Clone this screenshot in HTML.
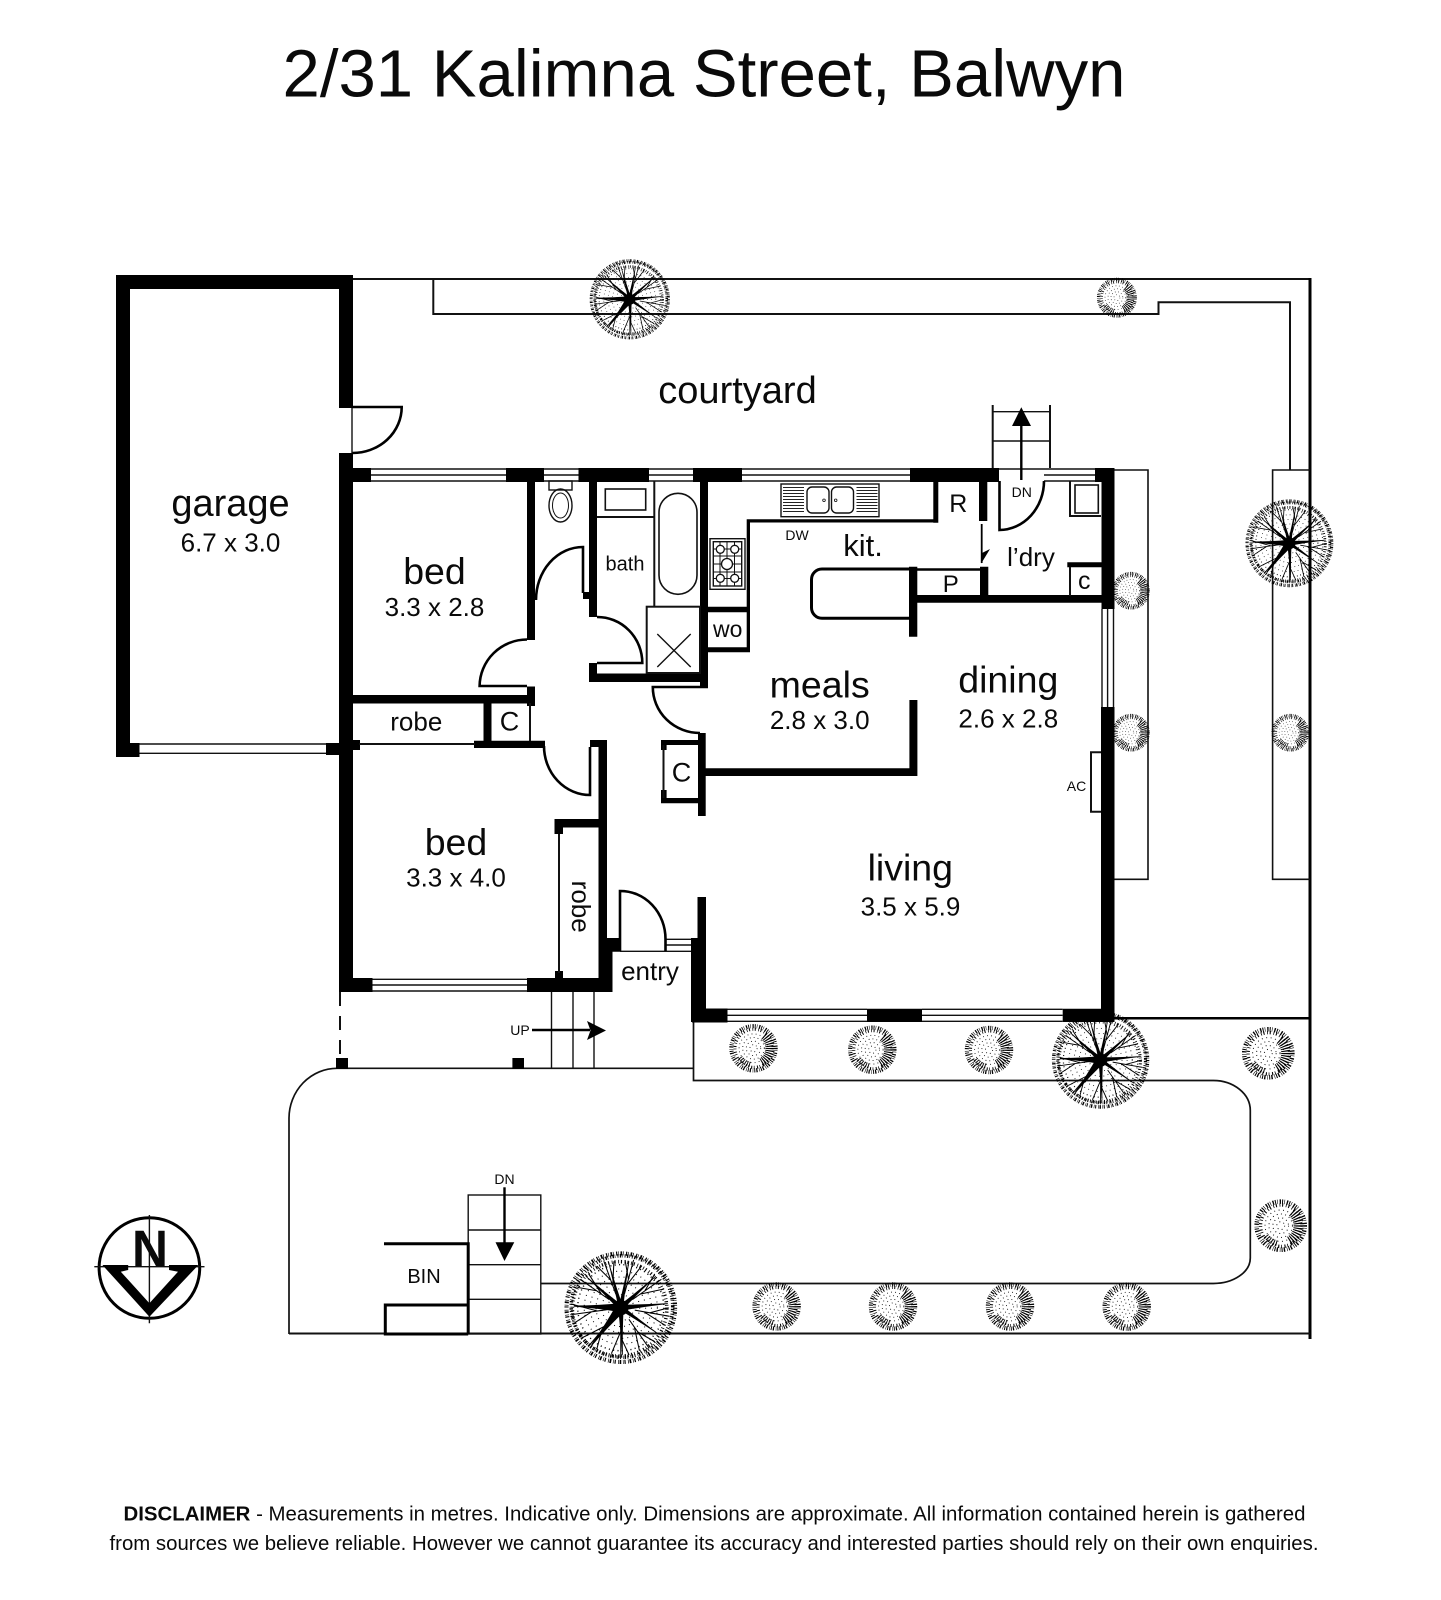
<!DOCTYPE html>
<html><head><meta charset="utf-8"><title>2/31 Kalimna Street, Balwyn</title>
<style>html,body{margin:0;padding:0;background:#fff}svg{display:block}
text{font-family:"Liberation Sans",Arial,sans-serif;fill:#0a0a0a;text-anchor:middle}
.l{font-size:37.5px}.d{font-size:26px}.s{font-size:14px}
.thin{fill:none;stroke:#111;stroke-width:1.4}.f{fill:none;stroke:#111;stroke-width:2}.m{fill:none;stroke:#000;stroke-width:3}</style></head>
<body>
<svg xmlns="http://www.w3.org/2000/svg" width="1441" height="1600" viewBox="0 0 1441 1600">
<defs>
<g id="shrub" fill="none" stroke="#000">
<circle r="21.5" stroke-width="4" stroke-dasharray=".9 1.1 .5 1.7 1.2 1"/>
<circle cx=".5" r="18.5" stroke-width="3" stroke-dasharray=".7 1.6 1 2.4"/>
<path d="M10 -11.9A15.5 15.5 0 0 1 7.75 13.4" stroke-width="8" stroke-dasharray="1.1 1.1"/>
<path d="M-13 9A16 16 0 0 0 -3 15.7" stroke-width="5" stroke-dasharray=".9 1.3"/>
<circle r="14" stroke-width=".9" stroke-dasharray=".8 3.2"/>
<circle r="10.500" stroke-width=".9" stroke-dasharray=".8 3"/>
<circle r="7" stroke-width=".9" stroke-dasharray=".8 3"/>
<circle r="3.500" stroke-width=".9" stroke-dasharray=".8 3"/>
</g>
<path id="br" d="M-3 0L3 0Q1 -18 .4 -40L-.4 -40Q-1 -18 -3 0Z"/>
<path id="tw" d="M0 -12L0 -42M0 -20L8 -39M0 -25L-7 -40" fill="none" stroke="#000" stroke-width=".9"/>
<g id="big">
<g fill="none" stroke="#000">
<circle r="46" stroke-width="3.500" stroke-dasharray="1 .8 .5 1.500 1.400 .7 .6 2"/>
<circle cx="1" cy="-1" r="43" stroke-width="3" stroke-dasharray=".8 1.200 1.200 .7 .5 1.800"/>
<circle cx="-1" cy="1" r="40" stroke-width="3" stroke-dasharray=".7 1.600 1 2.200"/>
<circle r="36.500" stroke-width="1.200" stroke-dasharray=".9 2.800"/>
<circle r="31" stroke-width=".9" stroke-dasharray=".8 3.500"/>
<circle r="26" stroke-width=".9" stroke-dasharray=".8 3.500"/>
<circle r="21" stroke-width=".9" stroke-dasharray=".8 3.500"/>
<circle r="16" stroke-width=".9" stroke-dasharray=".8 3.500"/>
<circle r="11" stroke-width=".9" stroke-dasharray=".8 3.500"/>
</g>
<use href="#tw" transform="rotate(15)"/><use href="#tw" transform="rotate(55)"/><use href="#tw" transform="rotate(100)"/><use href="#tw" transform="rotate(145)"/><use href="#tw" transform="rotate(180)"/><use href="#tw" transform="rotate(220)"/><use href="#tw" transform="rotate(262)"/><use href="#tw" transform="rotate(305)"/><use href="#tw" transform="rotate(340)"/>
<use href="#br" transform="rotate(10) scale(.7,1)"/><use href="#br" transform="rotate(48) scale(.8,1)"/><use href="#br" transform="rotate(85) scale(.9,1)"/><use href="#br" transform="rotate(125) scale(.7,1)"/><use href="#br" transform="rotate(178) scale(.8,1)"/><use href="#br" transform="rotate(218) scale(1.500,1)"/><use href="#br" transform="rotate(272) scale(1.300,1)"/><use href="#br" transform="rotate(312) scale(.8,1)"/><use href="#br" transform="rotate(345) scale(.7,1)"/>
<circle r="6.500" fill="#000"/>
</g>
</defs>
<rect width="1441" height="1600" fill="#fff"/>

<text x="704" y="96.700" font-size="67" textLength="843" lengthAdjust="spacingAndGlyphs">2/31 Kalimna Street, Balwyn</text>

<!-- boundaries -->
<path class="f" d="M353 279H1310M433.300 279V314H1158.500V302.300H1290V470"/>
<path class="m" d="M1310 278V1339"/>
<path class="m" d="M1114 1018.300H1310" style="stroke-width:2.500"/>
<path class="f" d="M289 1333.500H1310"/>
<path class="thin" d="M1114 470H1148V879.300H1114M1310 470H1272.600V879.300H1310" style="stroke-width:1.600"/>
<path class="f" d="M693.500 1022V1080.500H1213A37 30 0 0 1 1250.300 1110.500V1258A37 25.500 0 0 1 1213 1283.500H541M289 1334V1118A48 50 0 0 1 337 1068.300H693.500" style="stroke-width:1.700"/>
<path d="M340 992V1058" fill="none" stroke="#111" stroke-width="2" stroke-dasharray="14 10"/>

<!-- trees -->
<use href="#big" transform="translate(629.800,299.300) scale(.84)"/>
<use href="#big" transform="translate(1289.400,543.300) scale(.92)"/>
<use href="#big" transform="translate(1100.600,1060) scale(1.020)"/>
<use href="#big" transform="translate(620.800,1307.700) scale(1.180)"/>
<use href="#shrub" transform="translate(1116.900,297.700) scale(.85)"/>
<use href="#shrub" transform="translate(1131,590.700) scale(.8)"/>
<use href="#shrub" transform="translate(1131,732.700) scale(.8)"/>
<use href="#shrub" transform="translate(1290.300,732.700) scale(.8)"/>
<use href="#shrub" transform="translate(753.500,1048.300) scale(1.030)"/>
<use href="#shrub" transform="translate(872.300,1049.700) scale(1.030)"/>
<use href="#shrub" transform="translate(989,1050) scale(1.030)"/>
<use href="#shrub" transform="translate(1268.300,1053.300) scale(1.120)"/>
<use href="#shrub" transform="translate(1280.700,1225.700) scale(1.120)"/>
<use href="#shrub" transform="translate(776.600,1306.500) scale(1.030)"/>
<use href="#shrub" transform="translate(893,1306.500) scale(1.030)"/>
<use href="#shrub" transform="translate(1010,1306.500) scale(1.030)"/>
<use href="#shrub" transform="translate(1126.700,1306.700) scale(1.030)"/>

<!-- walls -->
<path fill="#000" d="
M116 275H130V757H116Z M116 743H139.500V757H116Z M116 275H353V289H116Z M339 275H353V408H339Z M339 453H353V992H339Z M326 743H339V755H326Z
M353 468H371V482H353Z M506 468H544V482H506Z M578.500 468H649V482H578.500Z M693 468H742V482H693Z M910 468H999V482H910Z M1095 468H1114.500V482H1095Z
M1101.500 468H1114.500V609H1101.500Z M1101 707H1114.500V1022H1101Z M1062.700 1008.700H1114.500V1022H1062.700Z M867 1008.700H922V1022H867Z M692 1008.500H727.500V1022.500H692Z
M691 938H706V1022H691Z M697.500 897H706V938H697.500Z
M339 978H372.500V992H339Z M527 978H612.500V992H527Z M598.500 951H612.500V992H598.500Z M606 938H620V951.700H606Z M598.500 740H607V951H598.500Z M590 740H607V747H590Z M474 740.700H545V748H474Z
M554.500 819H598.500V827.500H554.500Z M554.500 827H563V834H554.500Z M555 971H563V978H555Z
M527 481H535V640H527Z M527 686.500H535V706H527Z M353 695H535V703.500H353Z M483.500 703H491.500V741H483.500Z M353 740H360V750H353Z
M589 481H597V617H589Z M583 592H590V599H583Z M589 663H597V682H589Z M589 673.500H708V682H589Z M700 481H708V687H700Z
M708 606.700H750V612.300H708Z M708 647.300H750V652.300H708Z M746.700 519.300H750V652H746.700Z M747 519.300H938V522.500H747Z
M933.300 481H938.300V522.700H933.300Z M979 481H987.300V521H979Z M980 566.700H988.300V595H980Z M909 566.700H917.300V636.700H909Z M917 595H1101.500V602.700H917Z M917 568.300H980V570.800H917Z M1067.300 562.300H1101.500V567.300H1067.300Z
M661 740H705.700V745H661Z M661 798H705.700V803.300H661Z M698 733H705.700V816H698Z M705 768.300H917V776H705Z M909.400 700H917.400V776H909.400Z M661 740H666.600V750H661Z M661 790H666.600V803H661Z
M336 1058H348V1069H336Z M512.400 1058H524V1069H512.400Z"/>

<!-- windows -->
<path class="thin" d="M139.500 744H326M139.500 753.300H326
M371 469H506M371 475H506M371 481H506 M544 469H578.500M544 475H578.500M544 481H578.500 M649 469H693M649 475H693M649 481H693 M742 469H910M742 475H910M742 481H910 M999 469H1044M1044 469H1095M1044 475H1095M1044 481H1095
M1102 609V707M1107.600 609V707M1113.500 609V707
M727.500 1009.300H867M727.500 1015.300H867M727.500 1021.300H867 M922 1009.300H1062.700M922 1015.300H1062.700M922 1021.300H1062.700
M372.500 979.300H527M372.500 985H527M372.500 991H527
M665 939.300H691M665 945H691M665 951.300H691M620 951.300H691"/>

<!-- doors -->
<g fill="none" stroke="#000" stroke-width="2.600">
<path d="M352 407H401.700A49 46 0 0 1 352 453"/>
<path d="M536 600A47 53 0 0 1 583 547V593"/>
<path d="M597 617A45 46 0 0 1 642.300 663H597"/>
<path d="M527 686H479.600A47.500 47 0 0 1 527 639.500"/>
<path d="M708 687H652.800A47 46 0 0 0 700 733"/>
<path d="M544 746A46 49 0 0 0 590 795V747"/>
<path d="M620 951V891A45 48 0 0 1 665.500 939V951"/>
<path d="M999.500 481V530A45 49 0 0 0 1044 481"/>
</g>
<path class="thin" d="M352 408V453"/>

<!-- thin partitions -->
<path class="f" d="M359 744H475M559 834V973M530 703V741M663.500 745V798M654.300 481V606M597 517H654.300M1070 481V516H1101M1070 567V596" style="stroke-width:2"/>
<rect x="646.700" y="606.700" width="53.300" height="66.300" class="f"/>
<path class="thin" d="M657.300 634L690.700 667M690.700 634L657.300 667"/>
<rect x="605.300" y="489" width="40.400" height="21" class="f" style="stroke-width:1.600"/>
<rect x="659" y="493.300" width="38" height="101" rx="19" class="f" style="stroke-width:1.600"/>

<!-- toilet -->
<rect x="549" y="481" width="23" height="9" class="thin"/>
<ellipse cx="560.500" cy="505.500" rx="11.500" ry="16.500" class="thin"/><ellipse cx="560.500" cy="505.500" rx="8" ry="12.500" class="thin" style="stroke-width:1"/>

<!-- stove -->
<rect x="710" y="538.700" width="35" height="50.600" class="thin"/>
<rect x="713.300" y="541.700" width="28.400" height="44.300" class="thin"/>
<path class="thin" d="M727 542V586M720 542V586M734.500 542V586M713 549H742M713 556H742M713 564H742M713 572H742M713 578.500H742" style="stroke-width:1"/>
<g fill="#fff" stroke="#111" stroke-width="1.300"><circle cx="720.300" cy="549.300" r="4"/><circle cx="734.700" cy="549.300" r="4"/><circle cx="720.300" cy="578.300" r="4"/><circle cx="734.700" cy="578.300" r="4"/><circle cx="727" cy="564" r="5.500"/></g>

<!-- sink -->
<rect x="781" y="484" width="98" height="32.700" class="thin"/>
<path d="M793.500 487V514M867 487V514" fill="none" stroke="#222" stroke-width="21" stroke-dasharray="1 2"/>
<rect x="807" y="487" width="22" height="26" rx="5" class="thin"/><rect x="831.500" y="487" width="22" height="26" rx="5" class="thin"/>
<circle cx="824" cy="500.300" r="1.300" class="thin" style="stroke-width:.8"/><circle cx="835.700" cy="500.300" r="1.300" class="thin" style="stroke-width:.8"/>

<!-- island -->
<path class="m" d="M910 569H822A10.500 10.500 0 0 0 811.500 579.500V607.800A10.500 10.500 0 0 0 822 618.300H910"/>

<!-- laundry sink -->
<rect x="1075" y="485" width="23.300" height="28" class="f" style="stroke-width:1.600"/>

<!-- AC -->
<path class="f" d="M1101 752.300H1091V811.700H1101"/>

<!-- stairs -->
<path class="f" d="M992.700 405V468M1050 405V468"/>
<path class="thin" d="M992.700 411.700H1050M992.700 441H1050"/>
<path d="M1021.300 480V426" fill="none" stroke="#000" stroke-width="2.400"/>
<path d="M1021.300 407.300L1031 426H1012Z" fill="#000"/>
<path class="thin" d="M551.500 992V1068M573 992V1068M594 992V1068"/>
<path d="M532 1030H590" fill="none" stroke="#000" stroke-width="2.400"/>
<path d="M587 1021L606 1030.500L587 1040L590.500 1030.500Z" fill="#000"/>
<path d="M981.700 524V563" fill="none" stroke="#000" stroke-width="1.800"/>
<path d="M981.200 563.500L990 549L982 553Z" fill="#000"/>
<rect x="468.200" y="1195" width="72.600" height="139" class="thin"/>
<path class="thin" d="M468.200 1230H540.800M468.200 1264.700H540.800M468.200 1299.300H540.800"/>
<path d="M504.500 1187.300V1244" fill="none" stroke="#000" stroke-width="2.400"/>
<path d="M504.500 1261L495.500 1242.300H514.300Z" fill="#000"/>
<path class="m" d="M384 1243.700H468.200V1334M468.200 1305H385.300V1334H468.200"/>

<!-- north -->
<circle cx="149.400" cy="1268" r="50.300" fill="none" stroke="#000" stroke-width="3"/>
<path class="thin" d="M94.300 1266.700H204.500M149.400 1215V1323.300"/>
<text x="150" y="1266.700" font-size="52" font-weight="bold" textLength="36" lengthAdjust="spacingAndGlyphs">N</text>
<path fill="#000" d="M102.400 1265H128.200V1270L120.800 1271.700L149.400 1303.300L178 1271.700L169 1270V1265H198.400L149.400 1316.700Z"/>

<!-- labels -->
<text x="737.500" y="403" class="l" style="font-size:38px">courtyard</text>
<text x="230.500" y="516" class="l" style="font-size:38px">garage</text><text x="230.500" y="551.700" class="d">6.7 x 3.0</text>
<text x="434.500" y="584" class="l">bed</text><text x="434.500" y="616" class="d">3.3 x 2.8</text>
<text x="416.300" y="730.700" class="d">robe</text><text x="509.500" y="730.700" class="d" style="font-size:27px">C</text>
<text x="625" y="570.700" font-size="20">bath</text>
<text x="727.700" y="637" font-size="23">wo</text>
<text x="819.700" y="697.300" class="l">meals</text><text x="819.700" y="729" class="d">2.8 x 3.0</text>
<text x="1008.300" y="692.300" class="l">dining</text><text x="1008.300" y="727.300" class="d">2.6 x 2.8</text>
<text x="910.300" y="880.700" class="l">living</text><text x="910.500" y="915.700" class="d">3.5 x 5.9</text>
<text x="456" y="855" class="l">bed</text><text x="456" y="886.700" class="d">3.3 x 4.0</text>
<text transform="translate(572,906.700) rotate(90)" class="d">robe</text>
<text x="650" y="980" class="d">entry</text>
<text x="681.500" y="781.700" class="d" style="font-size:27px">C</text>
<text x="863" y="556" font-size="31">kit.</text>
<text x="797" y="540" class="s">DW</text>
<text x="958.300" y="512" font-size="25">R</text>
<text x="950.700" y="592" font-size="24">P</text>
<text x="1084.300" y="589" font-size="25">c</text>
<text x="1031" y="566" font-size="26">l’dry</text>
<text x="1021.700" y="497" class="s">DN</text>
<text x="1076.500" y="791" class="s">AC</text>
<text x="520" y="1035" class="s">UP</text>
<text x="504.500" y="1184" class="s">DN</text>
<text x="424" y="1283" font-size="20">BIN</text>

<!-- disclaimer -->
<text x="714.500" y="1520.700" font-size="20" textLength="1182" lengthAdjust="spacingAndGlyphs"><tspan font-weight="bold">DISCLAIMER</tspan> - Measurements in metres. Indicative only. Dimensions are approximate. All information contained herein is gathered</text>
<text x="714" y="1550" font-size="20" textLength="1209" lengthAdjust="spacingAndGlyphs">from sources we believe reliable. However we cannot guarantee its accuracy and interested parties should rely on their own enquiries.</text>
</svg>
</body></html>
